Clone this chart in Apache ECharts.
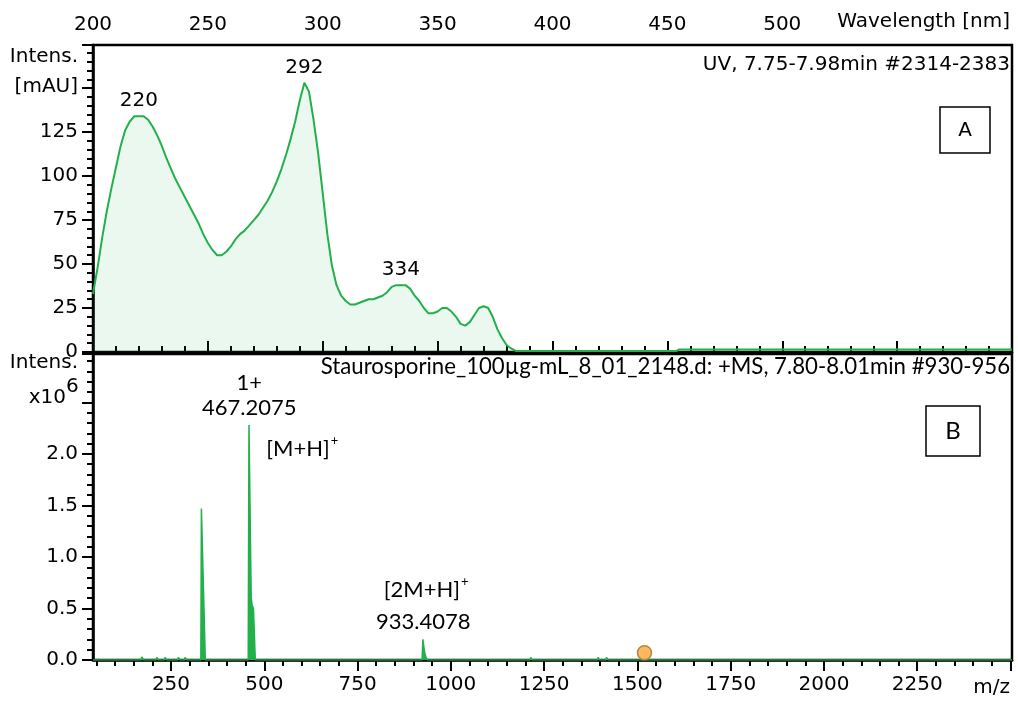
<!DOCTYPE html>
<html><head><meta charset="utf-8">
<script src="https://cdn.jsdelivr.net/npm/echarts@6/dist/echarts.min.js"></script>
<style>html,body{margin:0;padding:0;background:#fff}#c{width:1018px;height:702px}</style>
</head><body><div id="c"></div>
<script>
// ---------- UV spectrum (panel A) ----------
const uvWavelength = [200,202,204,206,208,210,212,214,216,218,220,222,224,226,228,230,232,234,236,238,240,242,244,246,248,250,252,254,256,258,260,262,264,266,268,270,272,274,276,278,280,282,284,286,288,290,292,294,296,298,300,302,304,306,308,310,312,314,316,318,320,322,324,326,328,330,332,334,336,338,340,342,344,346,348,350,352,354,356,358,360,362,364,366,368,370,372,374,376,378,380,382,384,454,455,600];
const uvIntensity  = [33,48,65,80,93,105,117,126,131,134,134,134,132,128,123,117,110,104,98,93,88,83,78,73,67,62,58,55,55,57,60,64,67,69,72,75,78,82,86,91,97,104,112,121,131,143,153,148,132,113,90,67,49,38,32,29,27,27,28,29,30,30,31,32,34,37,38,38,38,36,32,29,25,22,22,23,25,25,23,20,16,15,17,21,25,26,25,20,13,8,4,2,0.6,0.6,1.4,1.4];
const uvPeakWavelength = [220, 292, 334];
const uvPeakIntensity  = [134, 153, 38];
const uvTickLabels = [200,250,300,350,400,450,500];

// ---------- Mass spectrum (panel B), intensity x10^6 ----------
const msMz        = [41,170,171.5,177,210,211.7,217,232,234,239,268,269.6,275,286,287.5,293,330,331.5,335,342,457,459,463,465,467.6,471,476,923,925,928,930,934,938,1212,1214,1219,1393,1394.6,1399,1415,1417,1422,2504];
const msIntensity = [0,0,0.03,0,0,0.025,0,0,0.025,0,0,0.025,0,0,0.025,0,0,1.47,1.47,0,0,2.28,2.28,0.6,0.53,0.5,0,0,0.2,0.2,0.07,0.02,0,0,0.025,0,0,0.025,0,0,0.025,0,0];
const msPeakMz        = [460, 926];
const msPeakIntensity = [2.28, 0.2];
const msPeakText      = ['467.2075', '933.4078'];
const msChargeText    = ['1+', ''];
const msIonText       = ['[M+H]', '[2M+H]'];
const msMarkerMz = [1519];
const msMarkerIntensity = [0.07];
const msMajorTicks = [250,500,750,1000,1250,1500,1750,2000,2250,2500];
const msTickLabels = [250,500,750,1000,1250,1500,1750,2000,2250];
const msMinorTicks = [];
for (let v = 50; v <= 2500; v += 50) if (v % 250 !== 0) msMinorTicks.push(v);

const GREEN = '#22b04b';
const AX = '"DejaVu Sans", sans-serif';
const CAL = 'Lato, "Open Sans", sans-serif';
const black = {color:'#000', width:2};

const chart = echarts.init(document.getElementById('c'), null, {renderer:'canvas'});

const uvData = uvWavelength.map((w,i)=>[w, uvIntensity[i]]);
const uvPeaks = uvPeakWavelength.map((w,i)=>[w, uvPeakIntensity[i]]);
const msData = msMz.map((m,i)=>[m, msIntensity[i]]);

const msTopLabels = msPeakMz.map((m,i)=>({
  value:[m, msPeakIntensity[i]],
  label:{formatter: msChargeText[i] ? '{t|'+msChargeText[i]+'}\n{t|'+msPeakText[i]+'}' : '{t|'+msPeakText[i]+'}'}
}));
const msIonLabels = msPeakMz.map((m,i)=>({
  value:[m, msPeakIntensity[i]],
  label: i===0 ? {position:'right', distance:17, offset:[0,22]} : {position:'top', distance:38, offset:[3,0]},
  ionText: msIonText[i]
}));

chart.setOption({
  animation:false,
  backgroundColor:'#fff',
  grid:[
    {left:93, right:6, top:45, height:307, show:true, borderColor:'#000', borderWidth:2.5},
    {left:93, right:6, top:354, bottom:42, show:true, borderColor:'#000', borderWidth:2.5}
  ],
  xAxis:[
    {gridIndex:0, type:'value', position:'top', min:200, max:600, interval:50,
     axisLine:{lineStyle:{color:'#000', width:2.5}},
     axisTick:{length:11, lineStyle:black},
     minorTick:{show:true, splitNumber:5, length:6, lineStyle:black},
     splitLine:{show:false},
     axisLabel:{fontFamily:AX, fontSize:20, color:'#000', margin:10,
       formatter:v=> uvTickLabels.includes(v) ? String(v) : ''}},
    {gridIndex:1, type:'value', position:'bottom', min:41, max:2504,
     axisLine:{lineStyle:{color:'#000', width:2.5}},
     axisTick:{length:11, lineStyle:black, customValues:msMajorTicks},
     splitLine:{show:false},
     axisLabel:{fontFamily:AX, fontSize:20, color:'#000', margin:15, customValues:msTickLabels,
       formatter:v=>String(v)}},
    {gridIndex:1, type:'value', position:'bottom', min:41, max:2504,
     axisLine:{show:false},
     axisTick:{length:6, lineStyle:black, customValues:msMinorTicks},
     splitLine:{show:false},
     axisLabel:{show:false}}
  ],
  yAxis:[
    {gridIndex:0, type:'value', min:0, max:174.5, interval:25,
     axisLine:{show:true, lineStyle:{color:'#000', width:2.5}},
     axisTick:{show:true, length:11, lineStyle:black},
     minorTick:{show:true, splitNumber:5, length:6, lineStyle:black},
     splitLine:{show:false},
     axisLabel:{fontFamily:AX, fontSize:20, color:'#000', margin:15, formatter:v=> v<=125 ? String(v) : ''}},
    {gridIndex:1, type:'value', min:0, max:2.97, interval:0.5,
     axisLine:{show:true, lineStyle:{color:'#000', width:2.5}},
     axisTick:{show:true, length:11, lineStyle:black},
     minorTick:{show:true, splitNumber:5, length:6, lineStyle:black},
     splitLine:{show:false},
     axisLabel:{fontFamily:AX, fontSize:20, color:'#000', margin:15, formatter:v=> v<=2.0001 ? v.toFixed(1) : ''}}
  ],
  series:[
    {type:'line', xAxisIndex:0, yAxisIndex:0, data:uvData, symbol:'none',
     lineStyle:{color:GREEN, width:2}, areaStyle:{color:'rgba(34,176,75,0.13)'}, z:2},
    {type:'scatter', xAxisIndex:0, yAxisIndex:0, data:uvPeaks, symbolSize:0, itemStyle:{opacity:1},
     label:{show:true, position:'top', distance:5, fontFamily:AX, fontSize:20, color:'#000',
       formatter:p=>String(p.value[0])}, z:3},
    {type:'line', xAxisIndex:1, yAxisIndex:1, data:msData, symbol:'none',
     lineStyle:{color:GREEN, width:1.5}, areaStyle:{color:GREEN, opacity:1}, z:2},
    {type:'scatter', xAxisIndex:1, yAxisIndex:1, data:msTopLabels, symbolSize:0, itemStyle:{opacity:1},
     label:{show:true, position:'top', distance:5, align:'center',
       rich:{t:{fontFamily:CAL, fontSize:22, color:'#000', lineHeight:25, align:'center'}}}, z:3},
    {type:'scatter', xAxisIndex:1, yAxisIndex:1, data:msIonLabels, symbolSize:0, itemStyle:{opacity:1},
     label:{show:true, fontFamily:CAL, fontSize:22, color:'#000',
       formatter:p=>'{b|'+p.data.ionText+'}{s|+}',
       rich:{b:{fontFamily:CAL, fontSize:22, color:'#000', lineHeight:26, verticalAlign:'bottom'},
             s:{fontFamily:CAL, fontSize:13, color:'#000', verticalAlign:'top', lineHeight:26, padding:[0,0,10,1]}}}, z:3},
    {type:'scatter', xAxisIndex:1, yAxisIndex:1, data:msMarkerMz.map((m,i)=>[m, msMarkerIntensity[i]]),
     symbol:'circle', symbolSize:14, itemStyle:{color:'#ffb85c', borderColor:'#b5864a', borderWidth:1.5, opacity:1}, z:4}
  ],
  graphic:[
    {type:'text', x:1010, y:22, style:{text:'Wavelength [nm]', font:'20px "DejaVu Sans"', fill:'#000', align:'right', verticalAlign:'middle'}},
    {type:'text', x:1010, y:65, style:{text:'UV, 7.75-7.98min #2314-2383', font:'20px "DejaVu Sans"', fill:'#000', align:'right', verticalAlign:'middle'}},
    {type:'text', x:78, y:57, style:{text:'Intens.', font:'20px "DejaVu Sans"', fill:'#000', align:'right', verticalAlign:'middle'}},
    {type:'text', x:78, y:87, style:{text:'[mAU]', font:'20px "DejaVu Sans"', fill:'#000', align:'right', verticalAlign:'middle'}},
    {type:'text', x:78, y:363, style:{text:'Intens.', font:'20px "DejaVu Sans"', fill:'#000', align:'right', verticalAlign:'middle'}},
    {type:'text', x:66, y:398, style:{text:'x10', font:'20px "DejaVu Sans"', fill:'#000', align:'right', verticalAlign:'middle'}},
    {type:'text', x:66, y:387, style:{text:'6', font:'20px "DejaVu Sans"', fill:'#000', align:'left', verticalAlign:'middle'}},
    {type:'text', x:1010, y:367, style:{text:'Staurosporine_100µg-mL_8_01_2148.d: +MS, 7.80-8.01min #930-956', font:'22.2px Lato', fill:'#000', align:'right', verticalAlign:'middle'}},
    {type:'text', x:1010, y:688, style:{text:'m/z', font:'20px "DejaVu Sans"', fill:'#000', align:'right', verticalAlign:'middle'}},
    {type:'rect', shape:{x:940, y:107, width:50, height:46}, style:{fill:'#fff', stroke:'#000', lineWidth:1.5}, z:10},
    {type:'text', x:965, y:131, style:{text:'A', font:'20px "DejaVu Sans"', fill:'#000', align:'center', verticalAlign:'middle'}, z:11},
    {type:'rect', shape:{x:926, y:406, width:54, height:50}, style:{fill:'#fff', stroke:'#000', lineWidth:1.5}, z:10},
    {type:'text', x:953, y:431, style:{text:'B', font:'24px Lato', fill:'#000', align:'center', verticalAlign:'middle'}, z:11}
  ]
});
</script></body></html>
